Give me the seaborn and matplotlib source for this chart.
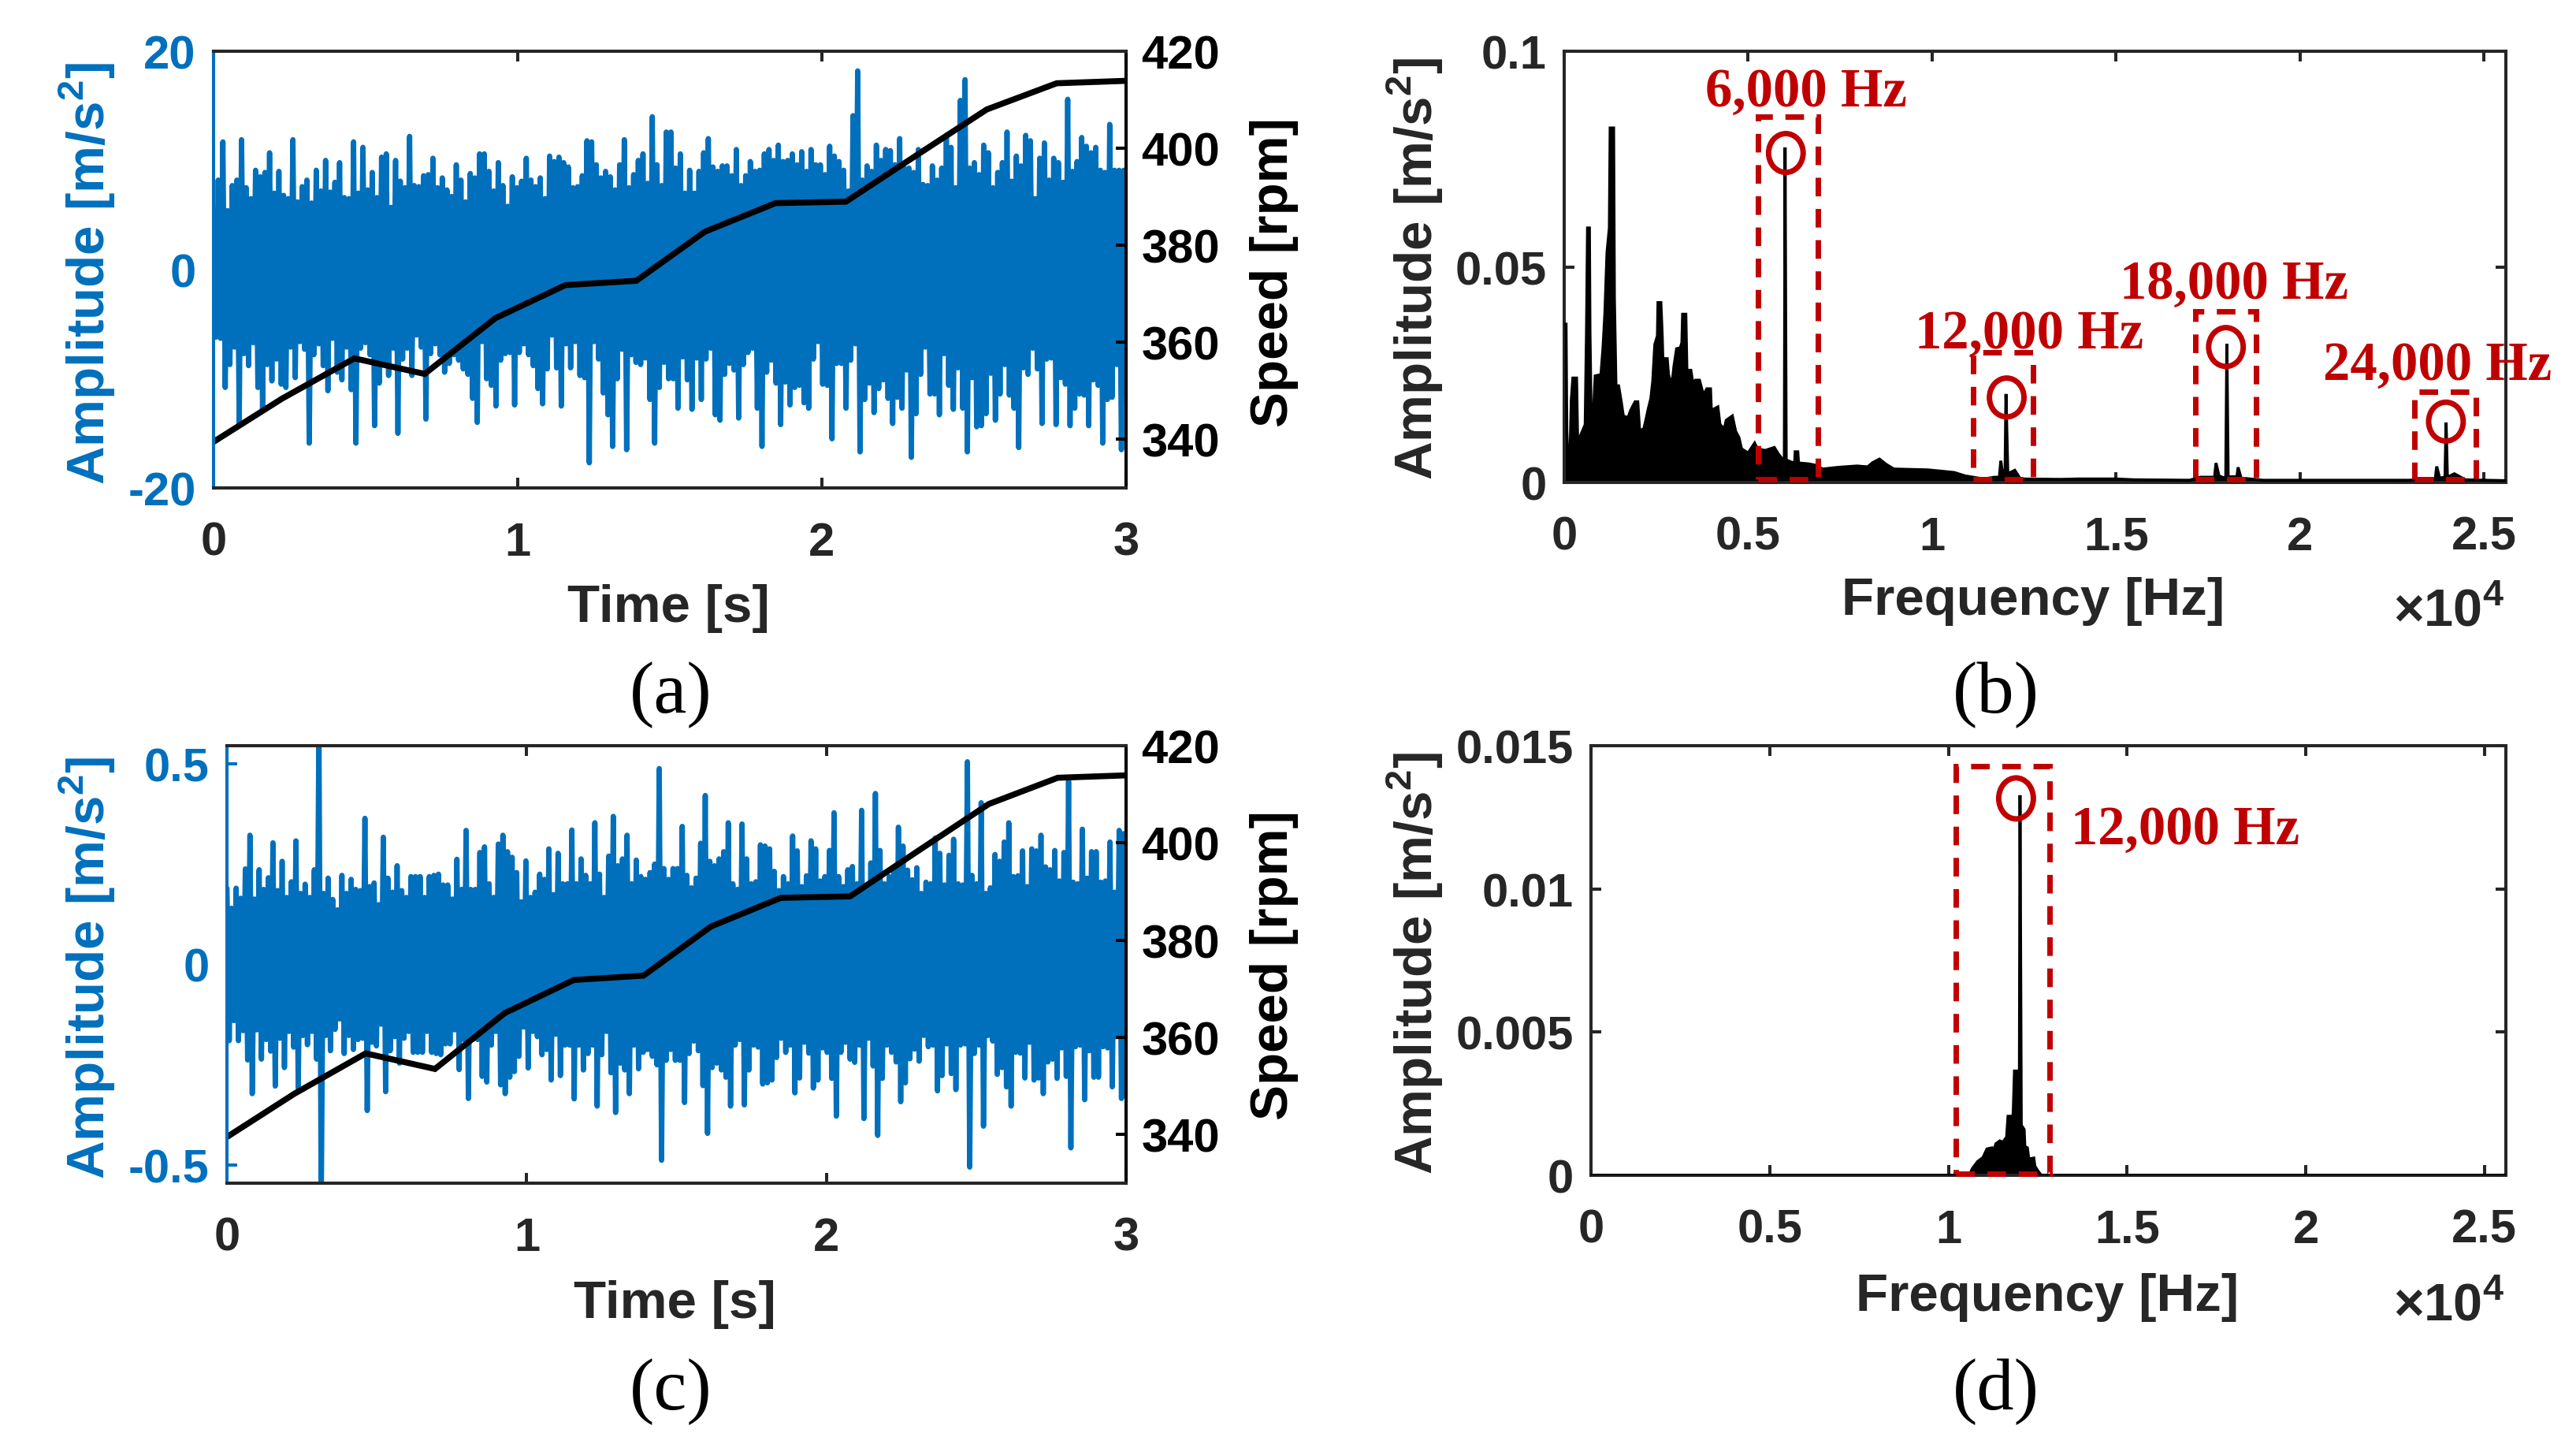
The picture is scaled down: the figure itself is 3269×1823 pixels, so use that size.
import numpy as np
import pandas as pd
import matplotlib
matplotlib.use("Agg")
import matplotlib.pyplot as plt
from matplotlib.patches import Rectangle, Ellipse
import seaborn as sns

W, H = 3269, 1824
BLUE = "#0070BD"
GRAY = "#262626"
RED = "#C00000"

speed_t = [0, 0.225, 0.463, 0.694, 0.927, 1.157, 1.39, 1.615, 1.848, 2.079, 2.312, 2.542, 2.772, 3.0]
speed_rpm = [339.5, 348.4, 356.7, 353.5, 365, 371.8, 372.7, 382.8, 388.7, 389, 398.6, 408, 413.4, 413.9]

a_upper = [
    4.4, 8.2, 11.7, 5.4, 7.7, 8.2, 11.9, 7.5, 6.5, 9.1, 8.5, 8.9, 10.7, 7, 9, 6.8, 6.5, 11.9, 6.2, 7.6,
    8.2, 6.1, 9.1, 7.2, 10, 7.1, 8, 9.8, 6.6, 6.5, 11.7, 7, 11.2, 7.3, 8.9, 6.6, 10.3, 10.6, 5.7, 10,
    8.1, 7.5, 12.2, 7.7, 7.6, 8.6, 8.7, 10.2, 7.5, 8.4, 7.3, 6.7, 9.6, 8.2, 6.2, 8.8, 8.4, 10.6, 10.6, 9,
    7.2, 9.8, 7.7, 5.8, 8.5, 7.5, 8.1, 10.2, 8.2, 7.6, 8.4, 6.5, 10.4, 9.9, 10.3, 9.8, 9.4, 7.5, 7.6, 8.6,
    11.8, 11.7, 9.6, 8.4, 9, 8.5, 7.3, 9.6, 11.9, 7.5, 8.7, 10, 10.6, 7.9, 14, 9.6, 7.7, 12.6,
    12.6, 9.3, 10.6, 7, 9.1, 7, 9, 10.7, 12, 9.4, 9, 9.5, 9.5, 8.6, 11, 7.7, 8.6, 9.9, 9, 9.1,
    10.6, 11, 10, 11.4, 9.9, 10, 10.6, 9.6, 10.8, 9, 11, 9.6, 9.6, 8.7, 11.3, 10.4, 9.9, 9.1, 7.2, 14.1,
    18.2, 8.2, 9.5, 9, 11.4, 10, 11, 10.9, 9.6, 12, 9.3, 9.3, 8.9, 11, 7.8, 7.7, 9.5, 8.2, 9.3, 12.3,
    11.2, 7.5, 15.5, 17.4, 9.3, 9.8, 8.7, 11.4, 10.7, 7.5, 8.9, 9.8, 12.6, 8.1, 10.4, 9.5, 12.3, 11.8, 6.5, 10.2,
    11.6, 8.2, 10.2, 9.8, 8, 15.6, 9, 9.9, 12.1, 11.3, 10.7, 11.2, 9.1, 8.9, 13.3, 9.1, 9.1, 9.1,
]
a_lower = [
    -6.2, -6.3, -10.8, -8.7, -7.1, -14.1, -7.7, -8.8, -6.7, -10.8, -12.9, -8.7, -10.2, -8.2, -10.5, -10.8, -7.1, -9.9, -6.6, -7.3,
    -15.9, -7.8, -6.8, -8.8, -11.1, -6.3, -9.4, -10.1, -7.1, -11, -15.9, -7.2, -6.7, -7.8, -14.3, -10.4, -8.3, -9.7, -7.2, -15,
    -8.2, -7.2, -9.7, -6, -7.1, -13.7, -7.7, -6.8, -7.8, -9.4, -8.6, -7.8, -8.3, -9.1, -9.6, -11.8, -14, -6.6, -10, -10.6,
    -12.5, -8.3, -7.7, -7.6, -12.4, -7.6, -6.8, -7.8, -8.8, -10.9, -12.3, -9.1, -6, -9, -12.5, -6.8, -9, -6.6, -9.7, -9.9,
    -17.7, -6.6, -8.2, -11.3, -13.3, -16.2, -10, -7.3, -16.5, -7.8, -8.5, -8.7, -8.1, -11.9, -15.9, -10.8, -8.5, -10,
    -10, -12.7, -8, -10.1, -12.8, -8.1, -11.9, -8.2, -7.2, -13.3, -13.8, -9.6, -8.6, -9.2, -13.6, -8.7, -7.6, -7.2, -12.7, -16.2,
    -9.4, -8.3, -10.4, -14.2, -10.3, -12.4, -10.8, -10.6, -12.2, -12.7, -8.2, -6.6, -10.5, -10.6, -15.5, -8.6, -8.6, -12.7, -8.3, -6.8,
    -16.7, -11.9, -10.4, -13.1, -10.9, -10.1, -11.8, -14.1, -11.7, -12.7, -9.2, -17.2, -13.2, -9.6, -7.1, -11.4, -11.4, -13.3, -7.7, -10.6,
    -12.8, -9, -12.7, -16.7, -9.9, -14.4, -14.3, -13.2, -9.5, -13.8, -11.4, -8.7, -11.5, -12.7, -16.3, -9, -9.6, -7.2, -9.1, -14.1,
    -8.2, -8.1, -14.2, -9.9, -10.5, -14.3, -12.7, -11.4, -11.5, -14.3, -10.1, -10.6, -15.9, -11.9, -11.7, -8.7, -16.5, -10.3,
]
c_mag = [
    .19, .14, .19, .165, .238, .322, .163, .236, .187, .216,
    .303, .184, .257, .167, .206, .308, .177, .2, .167, .236,
    .6, .177, .215, .162, .136, .222, .177, .212, .187, .184,
    .364, .194, .203, .149, .317, .215, .18, .246, .184, .167,
    .219, .219, .219, .167, .219, .222, .225, .198, .198, .163,
    .262, .187, .334, .187, .187, .279, .293, .201, .167, .3,
    .322, .281, .267, .229, .156, .258, .167, .18, .225, .212,
    .288, .174, .277, .201, .201, .335, .201, .263, .222, .201,
    .353, .225, .167, .27, .369, .246, .263, .322, .201, .26,
    .219, .212, .229, .25, .488, .239, .212, .239,
    .239, .344, .222, .191, .215, .302, .421, .257, .246, .263,
    .281, .353, .201, .187, .35, .263, .201, .206, .298, .295,
    .288, .232, .184, .219, .201, .32, .283, .194, .221, .308,
    .288, .208, .219, .284, .378, .219, .194, .236, .244, .201,
    .384, .184, .253, .426, .284, .201, .219, .243, .342, .295,
    .235, .211, .241, .177, .205, .201, .315, .277, .198, .272,
    .312, .201, .198, .505, .222, .201, .403, .177, .191, .274,
    .257, .305, .353, .219, .221, .283, .194, .288, .283, .322,
    .243, .236, .284, .208, .279, .457, .205, .201, .337, .215,
    .281, .281, .205, .208, .305, .18, .334, .326,
]

b_freq = [0, 50, 70, 107, 164, 193, 236, 336, 364, 407, 500, 571, 607, 635, 685, 700, 735, 785, 843, 1000,
          1057, 1107, 1164, 1228, 1250, 1343, 1364, 1407, 1478, 1550, 1607, 1735, 1807, 1928, 2000, 2050, 2164, 2214, 2285, 2357,
          2407, 2464, 2535, 2550, 2628, 2664, 2692, 2720, 2800, 2835, 2928, 2985, 3056, 3156, 3200, 3220, 3306, 3335, 3442, 3500,
          3570, 3677, 3785, 3877, 3977, 4000, 4177, 4234, 4355, 4405, 4570, 4662, 4750, 4820, 5000, 5177, 5250, 5462, 5712, 5820,
          5950, 5985, 6005, 6035, 6175, 6265, 6280, 6350, 6370, 6640, 6820, 7030, 7460, 7960, 8250, 8390, 8570, 8750, 8960, 9890,
          10600, 10900, 11400, 11700, 11830, 11870, 11900, 11985, 12010, 12060, 12250, 12400, 13500, 14000, 15000, 15500, 17000, 17300, 17680, 17720,
          17800, 17950, 17985, 18015, 18050, 18290, 18320, 18400, 19000, 21000, 23000, 23300, 23680, 23720, 23800, 23945, 23975, 24010, 24200, 24500, 25600]
b_amp = [.0367, .0367, .012, .0038, .008, .019, .0242, .0242, .010, .0101, .012, .0134, .035, .059, .059, .035, .014, .014, .0247, .025,
         .0314, .0393, .0533, .059, .0822, .0822, .0427, .0224, .0224, .0187, .0154, .015, .0167, .0187, .0187, .012, .0124, .0142, .017, .0195,
         .0234, .032, .034, .0417, .0417, .034, .0254, .0287, .0287, .025, .0224, .027, .031, .0312, .0324, .039, .039, .026, .026, .023,
         .0237, .0237, .0202, .0217, .0217, .0167, .0175, .0134, .0124, .0144, .0154, .0118, .0104, .0078, .0068, .0091, .0078, .0074, .0081, .0066,
         .0052, .0052, .0777, .0052, .0047, .0045, .0071, .0071, .0045, .0043, .004, .0031, .0035, .0038, .0036, .0046, .0054, .0042, .0031, .0029,
         .0023, .0015, .0008, .0012, .0012, .005, .003, .002, .0205, .002, .0028, .0008, .0007, .0008, .0008, .0006, .0005, .0012, .0012, .0045,
         .0015, .001, .001, .0321, .0013, .0013, .0035, .001, .0005, .0005, .0005, .0008, .0008, .0037, .001, .0012, .0139, .0012, .002, .0006, .0004]

d_freq = [0, 10500, 10595, 10670, 10820, 10970, 11080, 11230, 11290, 11330, 11440, 11520, 11630, 11670, 11770, 11790, 11820, 11850, 11910, 11940,
          11985, 12005, 12040, 12120, 12140, 12210, 12250, 12390, 12420, 12510, 12600, 25600]
d_amp = [0, 0, 0.00002, .00023, .00048, .00062, .00092, .00096, .00092, .0011, .0012, .00115, .00133, .00206, .00206, .0015, .00237, .00364, .00364, .0026,
         .00175, .01327, .00175, .0016, .001, .00096, .00057, .0006, .00032, .00014, 0, 0]

SPECTRUM_BOXES_B = [(5278, 6902, .0848), (11111, 12756, .0302), (17158, 18803, .0397), (23120, 24786, .021)]
PEAK_RINGS_B = [(6026, .0764), (12030, .0197), (17990, .0314), (23970, .0141)]

sns.set_theme(style="white", font="Liberation Sans")
plt.rcParams.update({
    "font.family": ["Liberation Sans", "DejaVu Sans"],
    "font.weight": "bold",
    "mathtext.fontset": "custom",
    "mathtext.bf": "Liberation Sans:bold",
    "mathtext.rm": "Liberation Sans:bold",
    "axes.unicode_minus": False,
})

fig = plt.figure(figsize=(W / 100, H / 100), dpi=100, facecolor="white")
TICK = 43
LABEL = 48.5
SPW = 2.9


def box(l, t, r, b):
    return fig.add_axes([l / W, 1 - b / H, (r - l) / W, (b - t) / H])


def ftext(x, y, s, **kw):
    kw.setdefault("ha", "center")
    kw.setdefault("va", "center")
    fig.text(x / W, 1 - y / H, s, **kw)


def style_spines(ax, left=GRAY, right=GRAY):
    for name, sp in ax.spines.items():
        sp.set_visible(True)
        sp.set_linewidth(SPW)
        sp.set_color(GRAY)
    ax.spines["left"].set_color(left)
    ax.spines["right"].set_color(right)


def time_panel(rect, up, low, ylim, yticks, yticklabels, xlab_xy, ylab_y, rlab_y):
    ax = box(*rect)
    n = len(up)
    t = np.linspace(0, 3, 2 * n)
    sig = np.empty(2 * n)
    sig[0::2] = up
    sig[1::2] = low
    df = pd.DataFrame({"t": t, "a": sig})
    sns.lineplot(data=df, x="t", y="a", ax=ax, color=BLUE, lw=4.8, sort=False, estimator=None,
                 errorbar=None, solid_joinstyle="round", solid_capstyle="round")
    ax.set_xlim(0, 3)
    ax.set_ylim(*ylim)
    ax.set_xticks([0, 1, 2, 3])
    ax.set_xticklabels(["0", "1", "2", "3"])
    ax.set_yticks(yticks)
    ax.set_yticklabels(yticklabels)
    ax.tick_params(axis="x", direction="in", top=True, bottom=True, length=9.4, width=SPW, color=GRAY,
                   labelcolor=GRAY, labelsize=TICK, pad=30)
    ax.tick_params(axis="y", direction="in", left=True, right=False, length=9.4, width=SPW, color=BLUE,
                   labelcolor=BLUE, labelsize=TICK, pad=16)
    ax.set_xlabel("")
    ax.set_ylabel("")
    tw = ax.twinx()
    sns.lineplot(x=speed_t, y=speed_rpm, ax=tw, color="black", lw=5.5, errorbar=None,
                 solid_joinstyle="miter")
    tw.set_ylim(330, 420)
    tw.set_yticks([340, 360, 380, 400, 420])
    tw.tick_params(axis="y", direction="in", right=True, left=False, length=9.4, width=SPW, color="black",
                   labelcolor="black", labelsize=TICK, pad=14)
    tw.set_ylabel("")
    tw.grid(False)
    ax.grid(False)
    style_spines(ax, left=BLUE, right="black")
    style_spines(tw, left=BLUE, right="black")
    ftext(xlab_xy[0], xlab_xy[1], "Time [s]", color=GRAY, fontsize=LABEL, fontweight="bold")
    ftext(111, ylab_y, r"Amplitude [m/s$^{\mathbf{2}}$]", color=BLUE, fontsize=LABEL, fontweight="bold",
          rotation=90)
    ftext(1617, rlab_y, "Speed [rpm]", color="black", fontsize=LABEL, fontweight="bold", rotation=90)
    return ax


def red_box(ax, x0, x1, top, bottom):
    ax.add_patch(Rectangle((x0, bottom), x1 - x0, top - bottom, fill=False, ec=RED, lw=5,
                           ls=(0, (3.4, 2.3)), capstyle="butt", joinstyle="miter", zorder=6, clip_on=False))


def red_ring(ax, x, y, w, h):
    ax.add_patch(Ellipse((x, y), w, h, fill=False, ec=RED, lw=5, zorder=7, clip_on=False))


def spectrum_panel(rect, freq, amp, ylim, yticks, yticklabels, xlab_xy, ylab_y, power_base):
    ax = box(*rect)
    df = pd.DataFrame({"f": freq, "a": amp})
    ax.fill_between(df["f"], 0, df["a"], color="black", lw=0, zorder=2)
    sns.lineplot(data=df, x="f", y="a", ax=ax, color="black", lw=2.7, errorbar=None,
                 solid_joinstyle="miter", zorder=3)
    ax.set_xlim(0, 25600)
    ax.set_ylim(*ylim)
    ax.set_xticks([0, 5000, 10000, 15000, 20000, 25000])
    ax.set_xticklabels(["0", "0.5", "1", "1.5", "2", "2.5"])
    ax.set_yticks(yticks)
    ax.set_yticklabels(yticklabels)
    ax.tick_params(axis="both", direction="in", top=True, right=True, bottom=True, left=True,
                   length=9.4, width=SPW, color=GRAY, labelcolor=GRAY, labelsize=TICK)
    ax.tick_params(axis="x", pad=30)
    ax.tick_params(axis="y", pad=16)
    ax.set_xlabel("")
    ax.set_ylabel("")
    ax.grid(False)
    style_spines(ax)
    ftext(xlab_xy[0], xlab_xy[1], "Frequency [Hz]", color=GRAY, fontsize=LABEL, fontweight="bold")
    ftext(1796, ylab_y, r"Amplitude [m/s$^{\mathbf{2}}$]", color=GRAY, fontsize=LABEL, fontweight="bold",
          rotation=90)
    fig.text(3178 / W, 1 - power_base / H, "×10$^{\\mathbf{4}}$", ha="right", va="baseline", color=GRAY,
             fontsize=48, fontweight="bold")
    return ax


# (a)
time_panel((271, 66, 1429, 620), a_upper, a_lower, (-20, 20), [-20, 0, 20], ["-20", "0", "20"],
           (848, 772), 347, 346)
# (c)
c_up = np.array(c_mag)
time_panel((288, 947, 1429, 1502), c_up, -c_up, (-0.545, 0.545), [-0.5, 0, 0.5], ["-0.5", "0", "0.5"],
           (856, 1655), 1228, 1225)

# (b)
ax_b = spectrum_panel((1985, 66, 3180, 613), b_freq, b_amp, (0, 0.1), [0, 0.05, 0.1], ["0", "0.05", "0.1"],
                      (2580, 763), 341, 795)
for (x0, x1, top) in SPECTRUM_BOXES_B:
    red_box(ax_b, x0, x1, top, 0.0007)
for (fx, v) in PEAK_RINGS_B:
    red_ring(ax_b, fx, v, 940, 0.0090)

# (d)
ax_d = spectrum_panel((2019, 947, 3180, 1492), d_freq, d_amp, (0, 0.015), [0, 0.005, 0.01, 0.015],
                      ["0", "0.005", "0.01", "0.015"], (2598, 1646), 1222, 1676)
red_box(ax_d, 10220, 12840, 0.01428, 0.00005)
red_ring(ax_d, 11894, 0.01316, 970, 0.00143)

for x, y, s in [(2292, 118, "6,000 Hz"), (2575, 425, "12,000 Hz"), (2835, 362, "18,000 Hz"),
                (3093, 465, "24,000 Hz"), (2773, 1054, "12,000 Hz")]:
    ftext(x, y, s, color=RED, fontsize=49.5, fontweight="bold", family="Liberation Serif")

for x, y, s in [(851, 882, "(a)"), (2533, 882, "(b)"), (851, 1766, "(c)"), (2533, 1766, "(d)")]:
    ftext(x, y, s, color="black", fontsize=68, fontweight="normal", family="Liberation Serif")

fig.savefig("out.png", dpi=100, facecolor="white")
